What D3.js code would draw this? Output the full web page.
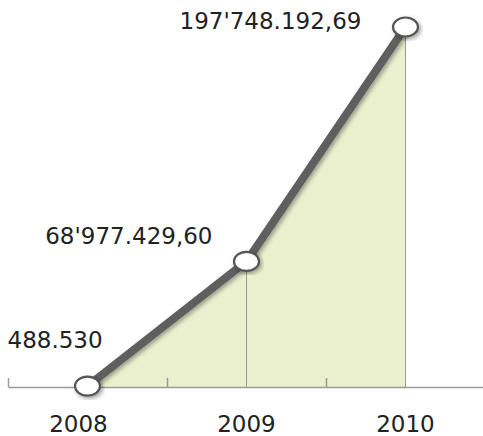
<!DOCTYPE html>
<html><head><meta charset="utf-8">
<script src="https://cdn.jsdelivr.net/npm/d3@7/dist/d3.min.js"></script>
<style>body{margin:0;background:#fff}svg{display:block}text{font-family:"DejaVu Sans",sans-serif;fill:#222}</style>
</head><body>
<script>
const years = [2008, 2009, 2010];
const values = [488530, 68977429.60, 197748192.69];
const valueLabels = ["488.530", "68'977.429,60", "197'748.192,69"];
const tickYears = ["2008", "2009", "2010"];

const W = 483, H = 436;
const svg = d3.select("body").append("svg").attr("width", W).attr("height", H);
const x = d3.scaleLinear().domain([2007.5, 2010.5]).range([8, 485]);
const y = d3.scaleLinear().domain([0, 197748192.69]).range([387, 27]);

const defs = svg.append("defs");
const f = defs.append("filter").attr("id", "sh").attr("x", "-20%").attr("y", "-20%").attr("width", "140%").attr("height", "140%");
f.append("feDropShadow").attr("dx", 2).attr("dy", 2).attr("stdDeviation", 2).attr("flood-color", "#000").attr("flood-opacity", 0.35);

const data = years.map((yr, i) => ({yr, v: values[i], label: valueLabels[i]}));

// area
svg.append("path").datum(data)
  .attr("d", d3.area().x(d => x(d.yr)).y0(y(0)).y1(d => y(d.v)))
  .attr("fill", "#ebf0cf");

// drop lines
svg.selectAll(".drop").data(data.slice(1)).join("line")
  .attr("x1", d => x(d.yr)).attr("x2", d => x(d.yr))
  .attr("y1", d => y(d.v)).attr("y2", y(0))
  .attr("stroke", "#9a9a9a").attr("stroke-width", 1);

// axis
const axis = d3.axisBottom(x).tickValues([2007.5, 2008.5, 2009.5]).tickSizeInner(-9).tickSizeOuter(0).tickFormat("");
const ag = svg.append("g").attr("transform", `translate(0,${y(0)})`).call(axis);
ag.select(".domain").attr("stroke", "#9a9a9a").attr("stroke-width", 1.5);
ag.selectAll(".tick line").attr("stroke", "#9a9a9a").attr("stroke-width", 1.5);

// year labels
svg.selectAll(".yl").data(tickYears).join("text")
  .attr("x", (d, i) => x(years[i]) - (i === 0 ? 9 : 0)).attr("y", 432)
  .attr("text-anchor", "middle").attr("font-size", 23).text(d => d);

// line
svg.append("path").datum(data)
  .attr("d", d3.line().x(d => x(d.yr)).y(d => y(d.v)))
  .attr("fill", "none").attr("stroke", "#5e5e5e").attr("stroke-width", 8)
  .attr("stroke-linejoin", "round").attr("filter", "url(#sh)");

// markers
svg.selectAll(".pt").data(data).join("ellipse")
  .attr("cx", d => x(d.yr)).attr("cy", d => y(d.v))
  .attr("rx", 12.5).attr("ry", 9.5)
  .attr("fill", "#fff").attr("stroke", "#555").attr("stroke-width", 2.2)
  .attr("filter", "url(#sh)");

// value labels
const lab = [
  {dx: -80, dy: -38, anchor: "start"},
  {dx: -34, dy: -17, anchor: "end"},
  {dx: -226, dy: 2, anchor: "start"}
];
svg.selectAll(".vl").data(data).join("text")
  .attr("x", (d, i) => x(d.yr) + lab[i].dx)
  .attr("y", (d, i) => y(d.v) + lab[i].dy)
  .attr("text-anchor", (d, i) => lab[i].anchor)
  .attr("font-size", 23).text(d => d.label);
</script>
</body></html>
